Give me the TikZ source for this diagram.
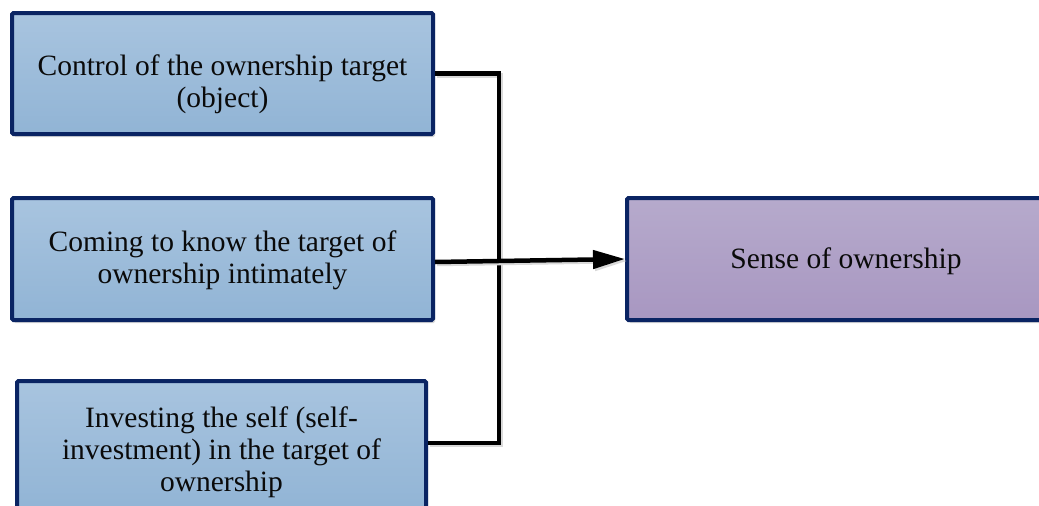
\documentclass[tikz,border=0pt]{standalone}
\usepackage{fontspec}
\setmainfont{Liberation Serif}
\usetikzlibrary{arrows.meta,calc,shadows}
\definecolor{navy}{RGB}{10,36,99}
\definecolor{blueTop}{RGB}{168,196,223}
\definecolor{blueBot}{RGB}{145,180,213}
\definecolor{purpTop}{RGB}{182,170,204}
\definecolor{purpBot}{RGB}{168,151,193}
\definecolor{ink}{RGB}{10,10,10}
\tikzset{
  box/.style={draw=navy, line width=4pt, rounded corners=1.5pt, inner sep=0pt,
    drop shadow={shadow xshift=2pt, shadow yshift=-3pt, fill=black!15, opacity=1}},
  bluebox/.style={box, top color=blueTop, bottom color=blueBot},
  purplebox/.style={box, top color=purpTop, bottom color=purpBot},
  boxtext/.style={align=center, text=ink, inner sep=0pt, font=\fontsize{29.5}{32}\selectfont},
  link/.style={line width=4.5pt, draw=black,
    preaction={draw=black!15, line width=4.5pt, transform canvas={shift={(2pt,-2pt)}}}},
}
\begin{document}
\begin{tikzpicture}[x=1pt, y=-1pt]
  \useasboundingbox (0,0) rectangle (1039,506);
  \clip (0,0) rectangle (1039,506);
  \fill[white] (0,0) rectangle (1039,506);

  % factor boxes on the left
  \node[bluebox, minimum width=421pt, minimum height=121pt] (b1) at (222.5,73.5) {};
  \node[bluebox, minimum width=421pt, minimum height=122pt] (b2) at (222.5,259) {};
  \node[bluebox, minimum width=409pt, minimum height=132pt] (b3) at (221.5,447) {};

  % outcome box
  \node[purplebox, minimum width=438pt, minimum height=122pt] (b4) at (846,259) {};

  % box captions
  \node[boxtext] (t1) at ($(b1.center)+(0,11)$) {Control of the ownership target\\(object)};
  \node[boxtext] (t2) at ($(b2.center)+(0,1)$) {Coming to know the target of\\ownership intimately};
  \node[boxtext] (t3) at ($(b3.center)+(0,5)$) {Investing the self (self-\\investment) in the target of\\ownership};
  \node[boxtext] (t4) at ($(b4.center)+(0,2)$) {Sense of ownership};

  % connectors
  \coordinate (j1) at ($(b1.east)+(64,0)$);
  \coordinate (j3) at ($(b3.east)+(71,-4)$);
  \draw[link] (b1.east) -- (j1) -- (j1 |- j3) -- ($(b3.east)+(0,-4)$);
  \draw[link, -{Triangle[length=32pt,width=18pt]}]
    ($(b2.east)+(0,3)$) -- (b4.west);
\end{tikzpicture}
\end{document}
